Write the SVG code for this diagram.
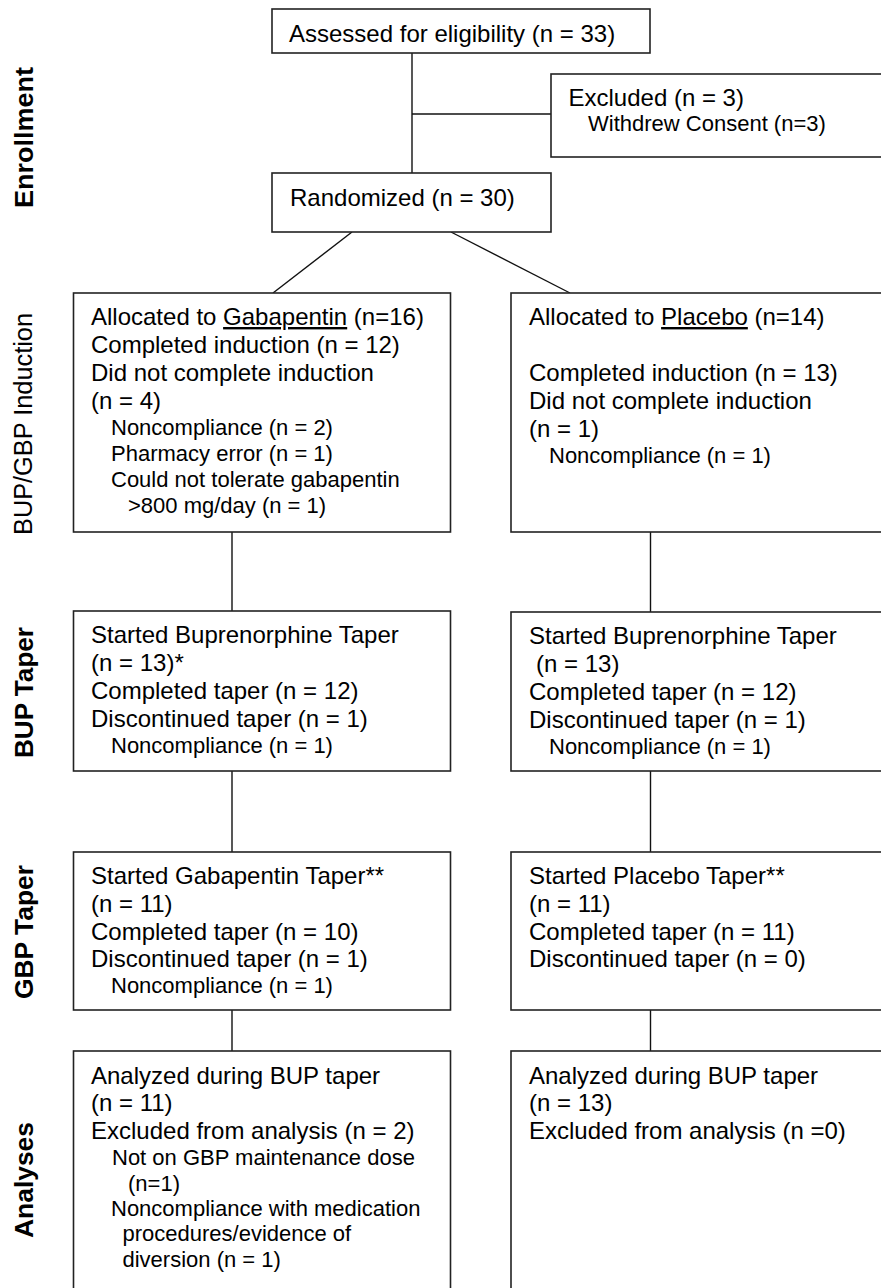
<svg xmlns="http://www.w3.org/2000/svg" width="881" height="1288" viewBox="0 0 881 1288">
<style>
.box{fill:#fff;stroke:#222;stroke-width:1.6}
.con line{stroke:#111;stroke-width:1.4}
text{font-family:"Liberation Sans",Arial,sans-serif;fill:#000}
.m{font-size:24px}
.s{font-size:22px}
.lab{font-size:26px;font-weight:bold}
.labn{font-size:25px}
.u{text-decoration:underline}
</style>
<rect width="881" height="1288" fill="#fff"/>
<g id="stage-labels">
<text class="lab" transform="translate(33,137.5) rotate(-90)" text-anchor="middle" textLength="141" lengthAdjust="spacingAndGlyphs">Enrollment</text>
<text class="labn" transform="translate(32,424) rotate(-90)" text-anchor="middle" textLength="222" lengthAdjust="spacingAndGlyphs">BUP/GBP Induction</text>
<text class="lab" transform="translate(33,692.5) rotate(-90)" text-anchor="middle" textLength="131" lengthAdjust="spacingAndGlyphs">BUP Taper</text>
<text class="lab" transform="translate(33,932) rotate(-90)" text-anchor="middle" textLength="134" lengthAdjust="spacingAndGlyphs">GBP Taper</text>
<text class="lab" transform="translate(33,1180) rotate(-90)" text-anchor="middle" textLength="116" lengthAdjust="spacingAndGlyphs">Analyses</text>
</g>
<g id="connectors" class="con">
<line x1="412" y1="53" x2="412" y2="173"/>
<line x1="412" y1="114" x2="551" y2="114"/>
<line x1="352" y1="232" x2="273" y2="293"/>
<line x1="451" y1="232" x2="570" y2="293"/>
<line x1="232" y1="532" x2="232" y2="611"/>
<line x1="650.5" y1="532" x2="650.5" y2="612"/>
<line x1="232" y1="771" x2="232" y2="852"/>
<line x1="650.5" y1="771" x2="650.5" y2="852"/>
<line x1="232" y1="1010" x2="232" y2="1051"/>
<line x1="650.5" y1="1010" x2="650.5" y2="1051"/>
</g>
<g id="assessed">
<rect class="box" x="272" y="9" width="378" height="44"/>
<text class="m" x="289" y="41.5">Assessed for eligibility (n = 33)</text>
</g>
<g id="excluded">
<rect class="box" x="551" y="74" width="345" height="83"/>
<text class="m" x="568.5" y="106">Excluded (n = 3)</text>
<text class="s" x="588" y="131">Withdrew Consent (n=3)</text>
</g>
<g id="randomized">
<rect class="box" x="272" y="173" width="279" height="59"/>
<text class="m" x="290" y="206">Randomized (n = 30)</text>
</g>
<g id="induction-gbp">
<rect class="box" x="73.5" y="293" width="377" height="239"/>
<text class="m" x="91" y="325">Allocated to <tspan class="u">Gabapentin</tspan> (n=16)</text>
<text class="m" x="91" y="353">Completed induction (n = 12)</text>
<text class="m" x="91" y="381">Did not complete induction</text>
<text class="m" x="91" y="409">(n = 4)</text>
<text class="s" x="111" y="435">Noncompliance (n = 2)</text>
<text class="s" x="111" y="461">Pharmacy error (n = 1)</text>
<text class="s" x="111" y="487">Could not tolerate gabapentin</text>
<text class="s" x="128" y="513">&gt;800 mg/day (n = 1)</text>
</g>
<g id="induction-pbo">
<rect class="box" x="511" y="293" width="385" height="239"/>
<text class="m" x="529" y="325">Allocated to <tspan class="u">Placebo</tspan> (n=14)</text>
<text class="m" x="529" y="381">Completed induction (n = 13)</text>
<text class="m" x="529" y="409">Did not complete induction</text>
<text class="m" x="529" y="437">(n = 1)</text>
<text class="s" x="549" y="463">Noncompliance (n = 1)</text>
</g>
<g id="bup-gbp">
<rect class="box" x="73.5" y="611" width="377" height="160"/>
<text class="m" x="91" y="643">Started Buprenorphine Taper</text>
<text class="m" x="91" y="671">(n = 13)*</text>
<text class="m" x="91" y="699">Completed taper (n = 12)</text>
<text class="m" x="91" y="727">Discontinued taper (n = 1)</text>
<text class="s" x="111" y="753">Noncompliance (n = 1)</text>
</g>
<g id="bup-pbo">
<rect class="box" x="511" y="612" width="385" height="159"/>
<text class="m" x="529" y="644">Started Buprenorphine Taper</text>
<text class="m" x="536" y="672">(n = 13)</text>
<text class="m" x="529" y="700">Completed taper (n = 12)</text>
<text class="m" x="529" y="728">Discontinued taper (n = 1)</text>
<text class="s" x="549" y="754">Noncompliance (n = 1)</text>
</g>
<g id="gbptaper-gbp">
<rect class="box" x="73.5" y="852" width="377" height="158"/>
<text class="m" x="91" y="884">Started Gabapentin Taper**</text>
<text class="m" x="91" y="912">(n = 11)</text>
<text class="m" x="91" y="939.5">Completed taper (n = 10)</text>
<text class="m" x="91" y="967">Discontinued taper (n = 1)</text>
<text class="s" x="111" y="993">Noncompliance (n = 1)</text>
</g>
<g id="gbptaper-pbo">
<rect class="box" x="511" y="852" width="385" height="158"/>
<text class="m" x="529" y="884">Started Placebo Taper**</text>
<text class="m" x="529" y="912">(n = 11)</text>
<text class="m" x="529" y="939.5">Completed taper (n = 11)</text>
<text class="m" x="529" y="967">Discontinued taper (n = 0)</text>
</g>
<g id="analyses-gbp">
<rect class="box" x="73.5" y="1051" width="377" height="260"/>
<text class="m" x="91" y="1083.5">Analyzed during BUP taper</text>
<text class="m" x="91" y="1111">(n = 11)</text>
<text class="m" x="91" y="1138.5">Excluded from analysis (n = 2)</text>
<text class="s" x="112" y="1164.5">Not on GBP maintenance dose</text>
<text class="s" x="128" y="1191">(n=1)</text>
<text class="s" x="111" y="1216">Noncompliance with medication</text>
<text class="s" x="122.5" y="1241">procedures/evidence of</text>
<text class="s" x="122.5" y="1267">diversion (n = 1)</text>
</g>
<g id="analyses-pbo">
<rect class="box" x="511" y="1051" width="385" height="260"/>
<text class="m" x="529" y="1083.5">Analyzed during BUP taper</text>
<text class="m" x="529" y="1111">(n = 13)</text>
<text class="m" x="529" y="1138.5">Excluded from analysis (n =0)</text>
</g>
</svg>
